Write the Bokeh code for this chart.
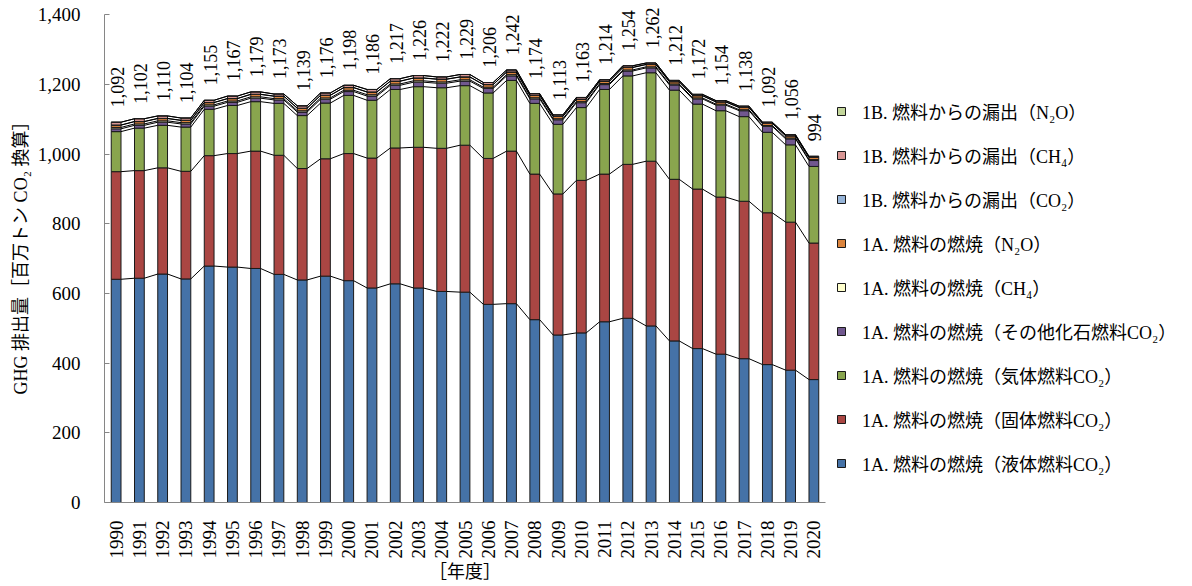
import numpy as np
from math import pi
from bokeh.plotting import figure
from bokeh.models import ColumnDataSource, Range1d, FixedTicker, NumeralTickFormatter, Legend, LegendItem
from bokeh.core.properties import value
from bokeh.embed import file_html
from bokeh.resources import INLINE

years = ["1990", "1991", "1992", "1993", "1994", "1995", "1996", "1997", "1998", "1999",
         "2000", "2001", "2002", "2003", "2004", "2005", "2006", "2007", "2008", "2009",
         "2010", "2011", "2012", "2013", "2014", "2015", "2016", "2017", "2018", "2019", "2020"]

liquid_co2 = [641, 644, 656, 642, 679, 676, 672, 655, 639, 650, 637, 616, 628, 616, 606, 604,
              569, 571, 525, 481, 487, 519, 529, 507, 464, 442, 426, 413, 396, 380, 353]
solid_co2 = [309, 309, 305, 309, 317, 326, 337, 342, 320, 337, 365, 373, 390, 404, 411, 422,
             419, 438, 418, 405, 438, 424, 442, 473, 464, 458, 451, 452, 436, 425, 392]
gas_co2 = [115, 122, 122, 127, 133, 138, 142, 149, 152, 160, 167, 166, 168, 174, 174, 171,
           188, 203, 203, 200, 209, 243, 254, 254, 256, 244, 248, 243, 231, 222, 220]
other_co2 = [8, 8, 9, 9, 9, 9, 10, 10, 10, 11, 11, 12, 12, 13, 13, 13,
             13, 13, 13, 13, 14, 14, 14, 14, 15, 15, 16, 17, 17, 17, 17]
comb_ch4 = [4.0, 4.0, 3.9, 3.8, 3.8, 3.9, 3.9, 3.7, 3.8, 3.8, 3.8, 3.9, 3.9, 3.9, 3.7, 3.8,
            3.5, 3.5, 3.2, 3.0, 3.1, 3.0, 3.1, 3.0, 2.8, 2.8, 2.8, 2.8, 2.6, 2.6, 2.6]
comb_n2o = [6.5, 6.6, 6.5, 6.3, 6.4, 6.7, 6.9, 6.8, 7.0, 7.3, 7.4, 7.6, 7.7, 7.8, 7.7, 7.9,
            7.3, 7.4, 6.8, 6.5, 6.9, 6.5, 6.9, 6.6, 6.3, 6.2, 6.3, 6.3, 6.0, 6.0, 6.0]
fug_co2 = [0.5, 0.5, 0.5, 0.5, 0.5, 0.5, 0.5, 0.5, 0.5, 0.5, 0.5, 0.5, 0.5, 0.5, 0.5, 0.5,
           0.5, 0.5, 0.5, 0.5, 0.5, 0.5, 0.5, 0.5, 0.5, 0.5, 0.5, 0.5, 0.5, 0.5, 0.5]
fug_ch4 = [8.0, 7.9, 7.1, 6.4, 6.3, 6.9, 6.7, 6.0, 6.7, 6.4, 6.3, 7.0, 6.9, 6.8, 6.1, 6.8,
           5.7, 5.6, 4.5, 4.0, 4.5, 4.0, 4.5, 3.9, 3.4, 3.5, 3.4, 3.4, 2.9, 2.9, 2.9]
fug_n2o = [0.01] * 31

totals = [1092, 1102, 1110, 1104, 1155, 1167, 1179, 1173, 1139, 1176, 1198, 1186, 1217, 1226,
          1222, 1229, 1206, 1242, 1174, 1113, 1163, 1214, 1254, 1262, 1212, 1172, 1154, 1138,
          1092, 1056, 994]

series_names = [
    "1A. 燃料の燃焼（液体燃料CO₂）",
    "1A. 燃料の燃焼（固体燃料CO₂）",
    "1A. 燃料の燃焼（気体燃料CO₂）",
    "1A. 燃料の燃焼（その他化石燃料CO₂）",
    "1A. 燃料の燃焼（CH₄）",
    "1A. 燃料の燃焼（N₂O）",
    "1B. 燃料からの漏出（CO₂）",
    "1B. 燃料からの漏出（CH₄）",
    "1B. 燃料からの漏出（N₂O）",
]
colors = ["#4572A7", "#AA4643", "#89A54E", "#71588F", "#FFFFCC",
          "#DB843D", "#95B3D7", "#D99694", "#C3D69B"]

series = [liquid_co2, solid_co2, gas_co2, other_co2, comb_ch4, comb_n2o, fug_co2, fug_ch4, fug_n2o]
keys = ["s%d" % i for i in range(len(series))]

FONT = "'Liberation Serif', 'Noto Sans CJK JP'"
BAR_W = 0.42
Y_MAX = 1400

x = list(range(len(years)))
data = {"x": x}
for k, s in zip(keys, series):
    data[k] = s
source = ColumnDataSource(data)

p = figure(output_backend="svg", toolbar_location=None,
           frame_width=721, frame_height=498,
           min_border_left=104, min_border_right=350, min_border_top=4, min_border_bottom=78,
           x_range=Range1d(-0.5, len(years) - 0.5), y_range=Range1d(0, 1430))

renderers = p.vbar_stack(keys, x="x", width=BAR_W, fill_color=colors, line_color="#1a1a1a",
                         line_width=1, source=source)

# series lines between bars
arr = np.array(series, dtype=float)
cum = np.cumsum(arr, axis=0)
x0s, y0s, x1s, y1s = [], [], [], []
for level in cum:
    for i in range(len(years) - 1):
        x0s.append(i + BAR_W / 2)
        y0s.append(level[i])
        x1s.append(i + 1 - BAR_W / 2)
        y1s.append(level[i + 1])
p.segment(x0s, y0s, x1s, y1s, line_color="black", line_width=1)

# total labels
lab_src = ColumnDataSource(dict(x=x, y=cum[-1], t=["{:,}".format(v) for v in totals]))
p.text(x="x", y="y", text="t", source=lab_src, angle=pi / 2, text_align="left",
       text_baseline="middle", y_offset=-15, x_offset=1, text_font=value(FONT),
       text_font_size="18px", text_color="black")

# axes
p.xgrid.visible = False
p.ygrid.visible = False
p.outline_line_color = None

p.xaxis.ticker = FixedTicker(ticks=x)
p.xaxis.major_label_overrides = {i: y for i, y in enumerate(years)}
p.xaxis.major_label_orientation = pi / 2
p.xaxis.major_tick_line_color = None
p.xaxis.minor_tick_line_color = None
p.xaxis.axis_line_color = "#868686"
p.xaxis.major_label_standoff = 12
p.xaxis.major_label_text_font = FONT
p.xaxis.major_label_text_font_size = "19px"
p.xaxis.major_label_text_color = "black"
p.xaxis.axis_label = "［年度］"
p.xaxis.axis_label_text_font = FONT
p.xaxis.axis_label_text_font_size = "18px"
p.xaxis.axis_label_text_font_style = "normal"
p.xaxis.axis_label_text_color = "black"
p.xaxis.axis_label_standoff = 0

p.yaxis.bounds = (0, Y_MAX)
p.yaxis.ticker = FixedTicker(ticks=[0, 200, 400, 600, 800, 1000, 1200, 1400])
p.yaxis.formatter = NumeralTickFormatter(format="0,0")
p.yaxis.major_tick_in = 5
p.yaxis.major_tick_out = 0
p.yaxis.major_tick_line_color = "#868686"
p.yaxis.minor_tick_line_color = None
p.yaxis.axis_line_color = "#868686"
p.yaxis.major_label_standoff = 24
p.yaxis.major_label_text_font = FONT
p.yaxis.major_label_text_font_size = "19px"
p.yaxis.major_label_text_color = "black"
p.yaxis.axis_label = "GHG 排出量［百万トン CO₂ 換算］"
p.yaxis.axis_label_text_font = FONT
p.yaxis.axis_label_text_font_size = "18px"
p.yaxis.axis_label_text_font_style = "normal"
p.yaxis.axis_label_text_color = "black"
p.yaxis.axis_label_standoff = 4

items = [LegendItem(label=series_names[i], renderers=[renderers[i]]) for i in range(len(series) - 1, -1, -1)]
legend = Legend(items=items, location=(11, 26), padding=0, margin=0, spacing=18,
                glyph_width=10, glyph_height=10, label_height=22, label_standoff=16,
                label_text_font=FONT, label_text_font_size="18px", label_text_color="black",
                border_line_color=None, background_fill_alpha=0)
p.add_layout(legend, "right")

open("out.html", "w").write(file_html(p, INLINE))
